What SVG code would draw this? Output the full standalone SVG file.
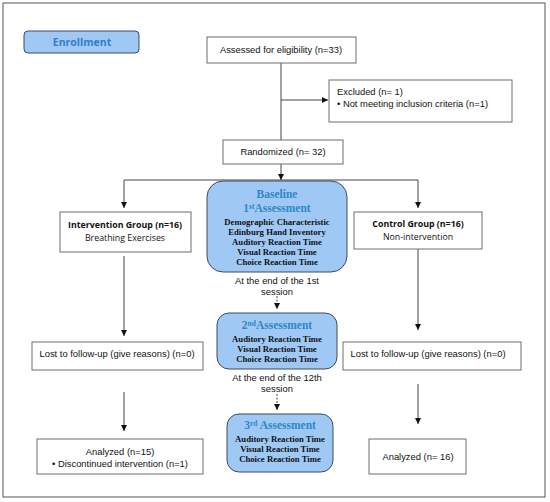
<svg xmlns="http://www.w3.org/2000/svg" width="550" height="502" viewBox="0 0 550 502">
<defs>
<marker id="ah" viewBox="0 0 10 10" refX="10" refY="5" markerWidth="6" markerHeight="6" orient="auto" markerUnits="userSpaceOnUse">
<path d="M0,0 L10,5 L0,10 z" fill="#111"/>
</marker>
</defs>
<style>
.box{fill:#fff;stroke:#6e6e6e;stroke-width:1}
.blue{fill:#9fc9f4;stroke:#3e4a5c;stroke-width:1}
.sans{font-family:"Liberation Sans",Arial,sans-serif;font-size:9.4px;fill:#111}
.cal{font-family:"Open Sans","Noto Sans",sans-serif;font-size:8.8px;fill:#111}
.calb{font-family:"Open Sans","Noto Sans",sans-serif;font-size:8.8px;font-weight:bold;fill:#111}
.ser{font-family:"Liberation Serif","Times New Roman",serif;font-size:8.7px;font-weight:bold;fill:#111}
.serh{font-family:"Liberation Serif","Times New Roman",serif;font-size:11.5px;font-weight:bold;fill:#2f86c8}
.ln{fill:none;stroke:#444;stroke-width:1}
.dash{fill:none;stroke:#444;stroke-width:1;stroke-dasharray:2,1.5}
</style>
<rect x="3" y="3" width="542" height="494" fill="#fff" stroke="#555" stroke-width="1"/>
<g id="connectors">
<path class="ln" d="M281,63 V140"/>
<path class="ln" d="M281,100 H328" marker-end="url(#ah)"/>
<path class="ln" d="M281,164 V180" marker-end="url(#ah)"/>
<path class="ln" d="M124,180 H418"/>
<path class="ln" d="M124,180 V208" marker-end="url(#ah)"/>
<path class="ln" d="M418,180 V208" marker-end="url(#ah)"/>
<path class="ln" d="M124,256 V336" marker-end="url(#ah)"/>
<path class="ln" d="M418,249 V330" marker-end="url(#ah)"/>
<path class="ln" d="M124,392 V431" marker-end="url(#ah)"/>
<path class="ln" d="M418,384 V424" marker-end="url(#ah)"/>
<path class="dash" d="M277,296 V309" marker-end="url(#ah)"/>
<path class="dash" d="M277,394 V410" marker-end="url(#ah)"/>
</g>
<g id="enrollment">
<rect class="blue" x="24" y="31" width="115" height="22" rx="4"/>
<text x="82" y="46" text-anchor="middle" style="font-family:'Open Sans','Noto Sans',sans-serif;font-size:10.5px;font-weight:bold;fill:#2f7fc0">Enrollment</text>
</g>
<g id="assessed">
<rect class="box" x="207" y="37" width="149" height="26"/>
<text class="sans" x="281" y="53" text-anchor="middle">Assessed for eligibility (n=33)</text>
</g>
<g id="excluded">
<rect class="box" x="329" y="80" width="183" height="42"/>
<text class="sans" x="337" y="95">Excluded (n= 1)</text>
<text class="sans" x="337" y="107">•  Not meeting inclusion criteria (n=1)</text>
</g>
<g id="randomized">
<rect class="box" x="223" y="140" width="120" height="24"/>
<text class="sans" x="283" y="155" text-anchor="middle">Randomized (n= 32)</text>
</g>
<g id="intervention">
<rect class="box" x="60" y="212" width="131" height="40"/>
<text class="calb" x="125" y="228" text-anchor="middle">Intervention Group (n=16)</text>
<text class="cal" x="125" y="241" text-anchor="middle">Breathing Exercises</text>
</g>
<g id="control">
<rect class="box" x="354" y="212" width="128" height="37"/>
<text class="calb" x="418" y="227" text-anchor="middle">Control Group (n=16)</text>
<text class="cal" x="418" y="240" text-anchor="middle">Non-intervention</text>
</g>
<g id="baseline">
<rect class="blue" x="207" y="181" width="140" height="91" rx="16"/>
<text class="serh" x="277" y="198" text-anchor="middle">Baseline</text>
<text class="serh" x="277" y="212" text-anchor="middle">1<tspan font-size="7.5" dy="-3.5">st</tspan><tspan dy="3.5">Assessment</tspan></text>
<text class="ser" x="277" y="225" text-anchor="middle">Demographic Characteristic</text>
<text class="ser" x="277" y="235" text-anchor="middle">Edinburg Hand Inventory</text>
<text class="ser" x="277" y="245" text-anchor="middle">Auditory Reaction Time</text>
<text class="ser" x="277" y="255" text-anchor="middle">Visual Reaction Time</text>
<text class="ser" x="277" y="265" text-anchor="middle">Choice Reaction Time</text>
</g>
<g id="label1">
<text class="sans" x="277" y="284" text-anchor="middle">At the end of the 1st</text>
<text class="sans" x="277" y="295" text-anchor="middle">session</text>
</g>
<g id="second">
<rect class="blue" x="217" y="313" width="120" height="56" rx="12"/>
<text class="serh" x="277" y="329" text-anchor="middle">2<tspan font-size="7.5" dy="-3.5">nd</tspan><tspan dy="3.5">Assessment</tspan></text>
<text class="ser" x="277" y="342" text-anchor="middle">Auditory Reaction Time</text>
<text class="ser" x="277" y="352" text-anchor="middle">Visual Reaction Time</text>
<text class="ser" x="277" y="362" text-anchor="middle">Choice Reaction Time</text>
</g>
<g id="label2">
<text class="sans" x="277" y="381" text-anchor="middle">At the end of the 12th</text>
<text class="sans" x="277" y="392" text-anchor="middle">session</text>
</g>
<g id="third">
<rect class="blue" x="227" y="414" width="106" height="58" rx="12"/>
<text class="serh" x="280" y="429" text-anchor="middle">3<tspan font-size="7.5" dy="-3.5">rd</tspan><tspan dy="3.5"> Assessment</tspan></text>
<text class="ser" x="280" y="442" text-anchor="middle">Auditory Reaction Time</text>
<text class="ser" x="280" y="452" text-anchor="middle">Visual Reaction Time</text>
<text class="ser" x="280" y="462" text-anchor="middle">Choice Reaction Time</text>
</g>
<g id="lostLeft">
<rect class="box" x="32" y="342" width="171" height="28"/>
<text class="sans" x="117" y="357" text-anchor="middle">Lost to follow-up (give reasons) (n=0)</text>
</g>
<g id="lostRight">
<rect class="box" x="343" y="342" width="178" height="28"/>
<text class="sans" x="428" y="357" text-anchor="middle">Lost to follow-up (give reasons) (n=0)</text>
</g>
<g id="analyzedLeft">
<rect class="box" x="37" y="439" width="166" height="35"/>
<text class="sans" x="120" y="455" text-anchor="middle">Analyzed  (n=15)</text>
<text class="sans" x="120" y="467" text-anchor="middle">• Discontinued intervention (n=1)</text>
</g>
<g id="analyzedRight">
<rect class="box" x="369" y="439" width="97" height="35"/>
<text class="sans" x="418" y="460" text-anchor="middle">Analyzed  (n= 16)</text>
</g>
</svg>
